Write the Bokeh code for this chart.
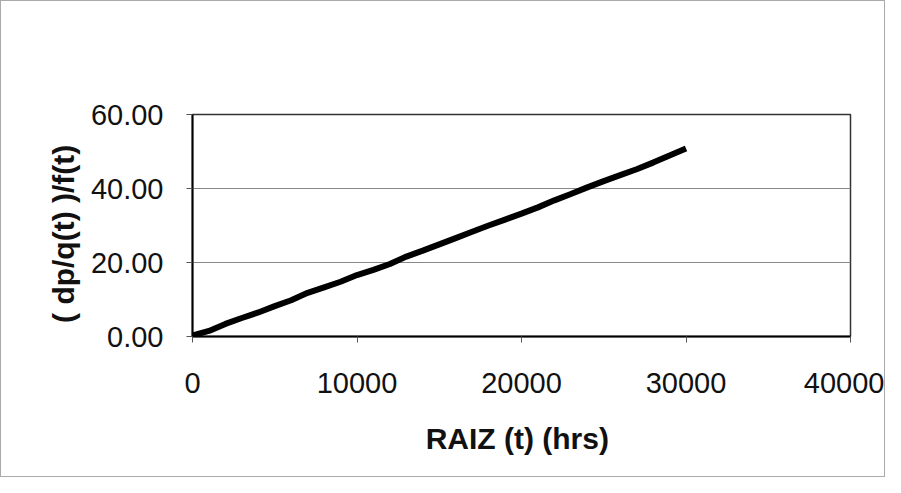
from bokeh.plotting import figure
from bokeh.embed import file_html
from bokeh.resources import INLINE
from bokeh.models import FixedTicker, NumeralTickFormatter, Range1d

# Data
raiz_t = [0, 1000, 2000, 3000, 4000, 5000, 6000, 7000, 8000, 9000, 10000,
          11000, 12000, 13000, 14000, 15000, 16000, 17000, 18000, 19000, 20000,
          21000, 22000, 23000, 24000, 25000, 26000, 27000, 28000, 29000, 30000]
dp_q_f = [0.3, 1.5, 3.4, 5.0, 6.5, 8.2, 9.8, 11.8, 13.3, 14.8, 16.6,
          18.0, 19.6, 21.6, 23.2, 24.9, 26.6, 28.3, 30.0, 31.6, 33.2,
          34.9, 36.8, 38.5, 40.3, 42.0, 43.6, 45.2, 47.0, 48.9, 50.8]
x_ticks = [0, 10000, 20000, 30000, 40000]
y_ticks = [0, 20, 40, 60]

p = figure(width=885, height=477, output_backend="svg", toolbar_location=None,
           x_range=Range1d(0, 40000), y_range=Range1d(0, 60),
           min_border_left=191, min_border_top=113, min_border_right=36,
           min_border_bottom=142)

p.line(raiz_t, dp_q_f, line_color="black", line_width=6)

p.styles = {"border": "1px solid #aaaaaa"}

font = "Liberation Sans"
p.xaxis.ticker = FixedTicker(ticks=x_ticks)
p.yaxis.ticker = FixedTicker(ticks=y_ticks)
p.yaxis.formatter = NumeralTickFormatter(format="0.00")
p.xaxis.formatter = NumeralTickFormatter(format="0")

for ax in (p.xaxis[0], p.yaxis[0]):
    ax.major_label_text_font = font
    ax.major_label_text_font_size = "29px"
    ax.major_label_text_color = "#111111"
    ax.axis_label_text_font = font
    ax.axis_label_text_font_size = "30px"
    ax.axis_label_text_font_style = "bold"
    ax.axis_label_text_color = "#111111"
    ax.axis_line_color = "black"
    ax.axis_line_width = 2
    ax.major_tick_line_color = "#555555"
    ax.major_tick_in = 0
    ax.major_tick_out = 6
    ax.minor_tick_line_color = None

p.xaxis.axis_label = "RAIZ (t)  (hrs)"
p.yaxis.axis_label = "(  dp/q(t)  )/f(t)"
p.xaxis.major_label_standoff = 30
p.xaxis.axis_label_standoff = 26
p.yaxis.major_label_standoff = 23
p.yaxis.axis_label_standoff = 8

p.xgrid.grid_line_color = None
p.ygrid.grid_line_color = "#888888"
p.ygrid.grid_line_width = 1

p.outline_line_color = "#333333"
p.outline_line_width = 1.5
p.background_fill_color = "white"
p.border_fill_color = "white"

open("out.html", "w").write(file_html(p, INLINE))
